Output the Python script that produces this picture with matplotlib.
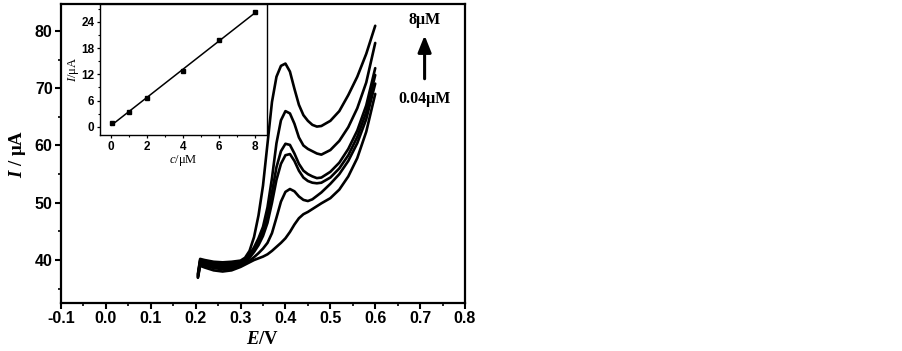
import numpy as np
import matplotlib
matplotlib.use("Agg")
import matplotlib.pyplot as plt
from matplotlib.ticker import MultipleLocator

plt.rcParams["mathtext.fontset"] = "custom"
plt.rcParams["mathtext.it"] = "Liberation Serif:italic"
plt.rcParams["mathtext.bfit"] = "Liberation Serif:bold:italic"
plt.rcParams["mathtext.rm"] = "Liberation Serif"
plt.rcParams["mathtext.bf"] = "Liberation Serif:bold"

# ---------------- data ----------------
E = [0.205, 0.21, 0.22, 0.24, 0.26, 0.28, 0.30, 0.31, 0.32, 0.33, 0.34, 0.35, 0.36,
     0.37, 0.38, 0.39, 0.40, 0.41, 0.42, 0.43, 0.44, 0.45, 0.46, 0.47, 0.48, 0.50,
     0.52, 0.54, 0.56, 0.58, 0.60]

I_8uM = [37.6, 40.2, 40.0, 39.7, 39.6, 39.7, 39.9, 40.4, 41.6, 44.0, 47.8, 53.0, 60.3,
         67.6, 72.0, 73.9, 74.3, 72.9, 69.9, 67.1, 65.3, 64.3, 63.6, 63.3, 63.4, 64.3,
         66.0, 68.8, 72.0, 76.0, 80.9]
I_6uM = [37.4, 40.0, 39.8, 39.4, 39.3, 39.4, 39.7, 40.1, 41.0, 42.2, 43.8, 45.8, 49.2,
         54.3, 60.4, 64.4, 66.0, 65.6, 63.8, 61.4, 60.0, 59.4, 59.0, 58.6, 58.4, 59.2,
         60.8, 63.2, 66.5, 71.0, 77.9]
I_4uM = [37.3, 39.8, 39.6, 39.2, 39.0, 39.1, 39.5, 39.9, 40.7, 41.8, 43.2, 45.0, 47.6,
         51.8, 56.2, 59.0, 60.3, 60.1, 58.6, 56.8, 55.6, 55.0, 54.6, 54.3, 54.4, 55.4,
         57.0, 59.4, 62.6, 67.0, 73.5]
I_2uM = [37.1, 39.6, 39.3, 38.9, 38.7, 38.8, 39.3, 39.7, 40.4, 41.4, 42.6, 44.2, 46.5,
         50.0, 54.0, 56.8, 58.3, 58.5, 57.3, 55.6, 54.4, 53.8, 53.5, 53.4, 53.5, 54.4,
         56.0, 58.3, 61.5, 65.8, 72.3]
I_1uM = [37.0, 39.3, 39.0, 38.6, 38.4, 38.5, 39.0, 39.4, 39.9, 40.5, 41.2, 42.0, 43.0,
         44.7, 47.4, 50.2, 51.9, 52.4, 52.0, 51.1, 50.5, 50.3, 50.6, 51.2, 51.8, 53.3,
         55.0, 57.3, 60.4, 64.6, 70.8]
I_004uM = [36.9, 39.0, 38.7, 38.2, 38.0, 38.2, 38.8, 39.2, 39.6, 40.0, 40.3, 40.6, 41.0,
           41.6, 42.3, 43.0, 43.8, 44.9, 46.2, 47.3, 48.0, 48.4, 48.9, 49.4, 49.9, 50.8,
           52.3, 54.6, 57.8, 62.4, 69.0]

conc = [0.04, 1, 2, 4, 6, 8]
peak_I = [0.8, 3.3, 6.5, 12.7, 19.8, 26.2]

x_ticks = [-0.1, 0.0, 0.1, 0.2, 0.3, 0.4, 0.5, 0.6, 0.7, 0.8]
y_ticks = [40, 50, 60, 70, 80]
inset_x_ticks = [0, 2, 4, 6, 8]
inset_y_ticks = [0, 6, 12, 18, 24]

curves = [I_004uM, I_1uM, I_2uM, I_4uM, I_6uM, I_8uM]

# ---------------- figure ----------------
W, H = 902, 351
fig = plt.figure(figsize=(W / 100, H / 100), dpi=100)

ax = fig.add_axes([61 / W, 1 - 303 / H, (465 - 61) / W, (303 - 4) / H])
for c in curves:
    ax.plot(E, c, color="black", lw=1.9, solid_capstyle="round", solid_joinstyle="round")

ax.set_xlim(-0.1, 0.8)
ax.set_ylim(32.5, 84.7)
ax.set_xticks(x_ticks)
ax.set_xticklabels([f"{v:.1f}" for v in x_ticks])
ax.set_yticks(y_ticks)
ax.xaxis.set_minor_locator(MultipleLocator(0.05))
ax.yaxis.set_minor_locator(MultipleLocator(5))
ax.tick_params(which="major", direction="out", length=4, width=1.5, pad=2)
ax.tick_params(which="minor", direction="out", length=2.5, width=1.2)
for lab in ax.get_xticklabels() + ax.get_yticklabels():
    lab.set_fontfamily("Liberation Sans")
    lab.set_fontweight("bold")
    lab.set_fontsize(11.5)
for s in ax.spines.values():
    s.set_linewidth(1.6)

ax.set_xlabel(r"$\mathbfit{E}$/V", fontsize=13.5, fontfamily="Liberation Serif",
              fontweight="bold", labelpad=3)
ax.set_ylabel(r"$\mathbfit{I}$ / μA", fontsize=13.5, fontfamily="Liberation Serif",
              fontweight="bold", labelpad=5)

# annotation
ax.text(0.90, 0.946, "8μM", transform=ax.transAxes, ha="center", va="center",
        fontsize=11.5, fontweight="bold", fontfamily="Liberation Serif")
ax.text(0.90, 0.682, "0.04μM", transform=ax.transAxes, ha="center", va="center",
        fontsize=11.5, fontweight="bold", fontfamily="Liberation Serif")
ax.annotate("", xy=(0.90, 0.895), xytext=(0.90, 0.75), xycoords="axes fraction",
            arrowprops=dict(arrowstyle="-|>,head_length=1.0,head_width=0.4",
                            color="black", lw=2.2, shrinkA=0, shrinkB=0))

# ---------------- inset ----------------
ins = fig.add_axes([100 / W, 1 - 135 / H, (267 - 100) / W, (135 - 4) / H])
ins.plot(conc, peak_I, "s", color="black", ms=3.5)
k, b = np.polyfit(conc, peak_I, 1)
xf = np.array([conc[0], conc[-1]])
ins.plot(xf, k * xf + b, color="black", lw=1.1)
ins.set_xlim(-0.6, 8.67)
ins.set_ylim(-1.9, 28.1)
ins.set_xticks(inset_x_ticks)
ins.set_yticks(inset_y_ticks)
ins.xaxis.set_minor_locator(MultipleLocator(1))
ins.yaxis.set_minor_locator(MultipleLocator(3))
ins.tick_params(which="major", direction="out", length=2.5, width=0.9, pad=1.5)
ins.tick_params(which="minor", direction="out", length=1.5, width=0.8)
for lab in ins.get_xticklabels() + ins.get_yticklabels():
    lab.set_fontfamily("Liberation Sans")
    lab.set_fontweight("bold")
    lab.set_fontsize(8.5)
for s in ins.spines.values():
    s.set_linewidth(1.0)
ins.set_xlabel(r"$\mathit{c}$/μM", fontsize=9, fontfamily="Liberation Serif", labelpad=0)
ins.set_ylabel(r"$\mathit{I}$/μA", fontsize=9, fontfamily="Liberation Serif", labelpad=0)

fig.savefig("out.png", dpi=100, facecolor="white")
